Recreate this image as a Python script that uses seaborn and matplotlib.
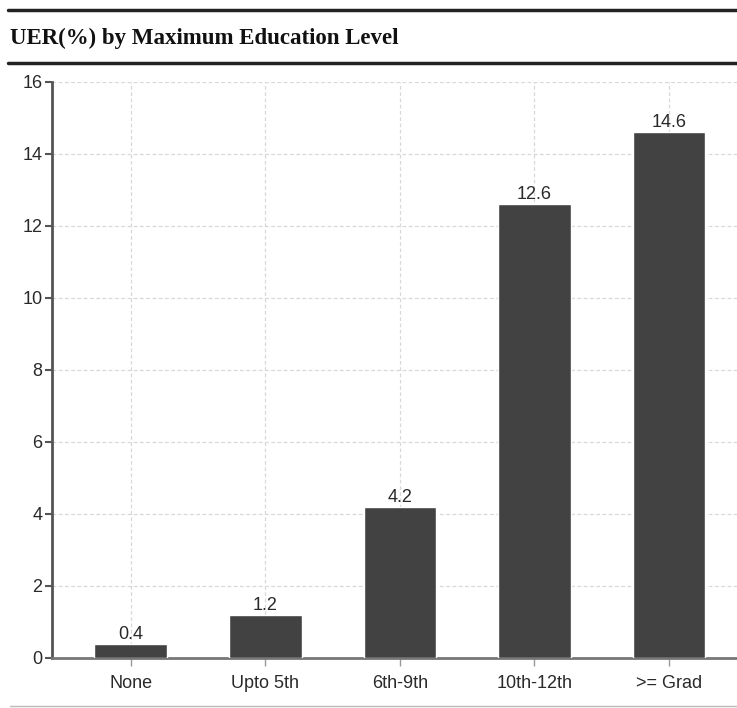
import matplotlib
matplotlib.use("Agg")
import matplotlib.pyplot as plt
from matplotlib.lines import Line2D
import seaborn as sns
import pandas as pd

# Unemployment rate (%) by highest education level attained
categories = ["None", "Upto 5th", "6th-9th", "10th-12th", ">= Grad"]
uer = [0.4, 1.2, 4.2, 12.6, 14.6]
y_ticks = [0, 2, 4, 6, 8, 10, 12, 14, 16]

sns.set_style("white")
plt.rcParams["font.family"] = ["Liberation Sans Narrow", "Liberation Sans", "DejaVu Sans"]

df = pd.DataFrame({"level": categories, "uer": uer})

fig = plt.figure(figsize=(7.37, 7.08), dpi=100)
ax = fig.add_axes([52 / 737, 50 / 708, 1 - 52 / 737, 576 / 708])

sns.barplot(data=df, x="level", y="uer", color="#424242", width=0.54,
            saturation=1, ax=ax, zorder=3)

for i, v in enumerate(uer):
    ax.text(i, v + 0.03, f"{v:g}", ha="center", va="bottom",
            fontsize=13, color="#2a2a2a", zorder=4)

ax.set_ylim(0, 16)
ax.set_xlim(-0.585, 4.505)
ax.set_yticks(y_ticks)
ax.set_yticklabels([str(t) for t in y_ticks])
ax.set_xlabel("")
ax.set_ylabel("")

ax.grid(True, which="major", axis="both", linestyle=(0, (3, 2)),
        color="#d8d8d8", linewidth=0.9, zorder=0)
ax.set_axisbelow(True)

for side in ("top", "right"):
    ax.spines[side].set_visible(False)
ax.spines["left"].set_color("#555555")
ax.spines["left"].set_linewidth(2)
ax.spines["bottom"].set_color("#777777")
ax.spines["bottom"].set_linewidth(2)

ax.tick_params(axis="y", length=5, width=1.5, color="#555555",
               labelsize=13, labelcolor="#2a2a2a", pad=2, left=True)
ax.tick_params(axis="x", length=6, width=1, color="#999999",
               labelsize=13, labelcolor="#2a2a2a", pad=6, bottom=True)

# Header rules and title
fig.add_artist(Line2D([8 / 737, 1], [1 - 10 / 708] * 2, color="#222222",
                      linewidth=2.5, transform=fig.transFigure))
fig.add_artist(Line2D([8 / 737, 1], [1 - 63 / 708] * 2, color="#222222",
                      linewidth=2.5, transform=fig.transFigure))
fig.add_artist(Line2D([10 / 737, 1], [1 - 706 / 708] * 2, color="#bbbbbb",
                      linewidth=1, transform=fig.transFigure))
fig.text(10 / 737, 1 - 38 / 708, "UER(%) by Maximum Education Level",
         ha="left", va="center", fontsize=16.5, fontweight="bold",
         family=["Liberation Serif", "DejaVu Serif"], color="#111111")

fig.savefig("out.png", dpi=100, facecolor="white")
